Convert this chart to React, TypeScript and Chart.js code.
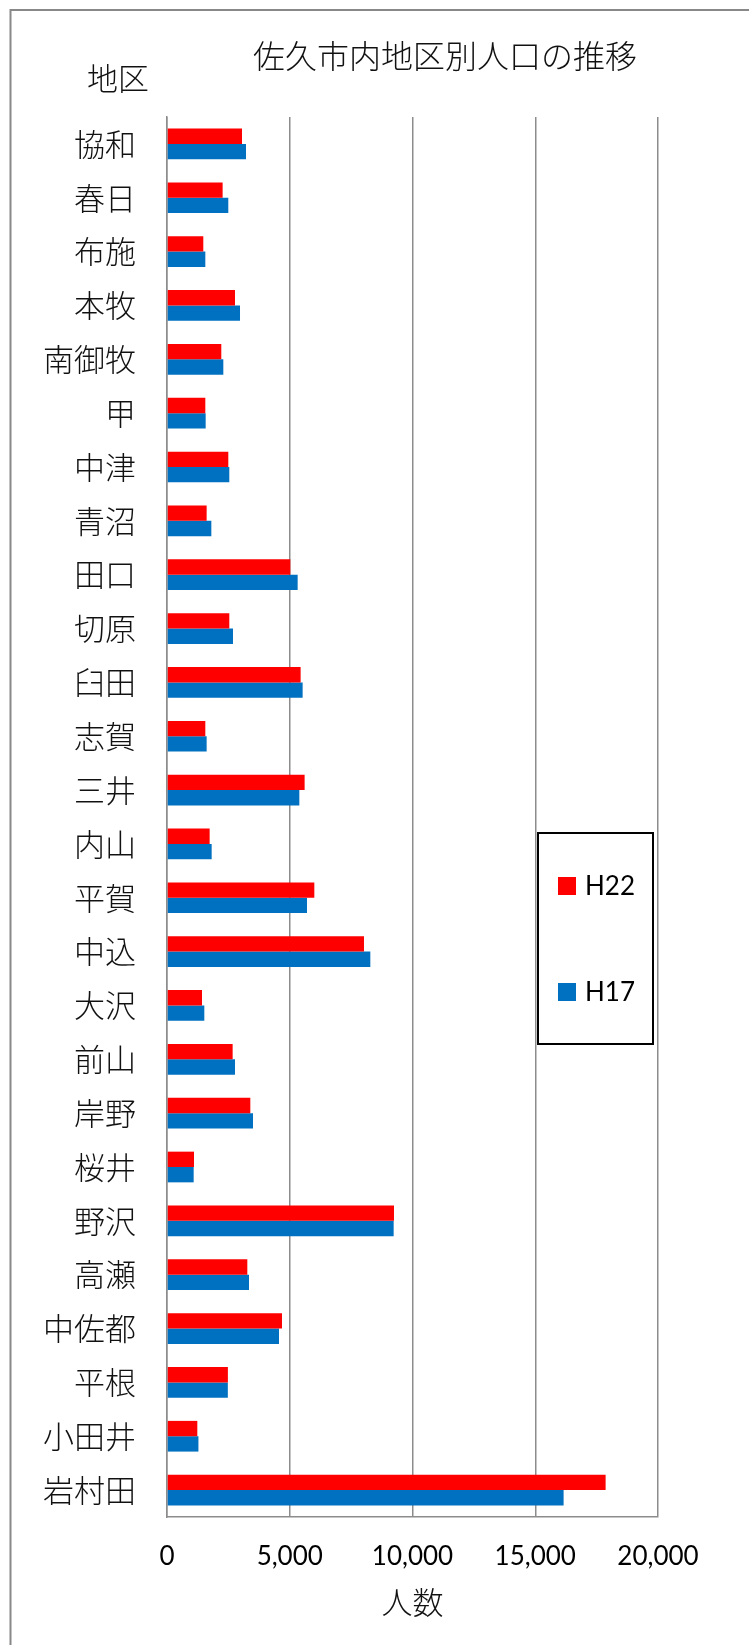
import React, { useEffect, useRef } from "react";
import { Chart, registerables } from "chart.js";

Chart.register(...registerables);

const chartTitle = "佐久市内地区別人口の推移";
const categoryAxisTitle = "地区";
const valueAxisTitle = "人数";

const districts = [
  "協和", "春日", "布施", "本牧", "南御牧", "甲", "中津", "青沼", "田口", "切原",
  "臼田", "志賀", "三井", "内山", "平賀", "中込", "大沢", "前山", "岸野", "桜井",
  "野沢", "高瀬", "中佐都", "平根", "小田井", "岩村田",
];

const h22 = [
  3055, 2266, 1479, 2770, 2212, 1561, 2497, 1615, 5023, 2538,
  5443, 1561, 5606, 1737, 6001, 8024, 1426, 2674, 3394, 1100,
  9246, 3272, 4684, 2480, 1235, 17866,
];

const h17 = [
  3218, 2497, 1561, 2974, 2294, 1575, 2538, 1806, 5322, 2688,
  5525, 1615, 5390, 1819, 5703, 8282, 1520, 2770, 3503, 1086,
  9232, 3340, 4562, 2478, 1280, 16155,
];

const seriesLabels = ["H22", "H17"];
const seriesColors = ["#ff0000", "#0070c0"];
const xTicks = [0, 5000, 10000, 15000, 20000];

const CJK = "'Noto Sans CJK JP', 'Noto Sans CJK SC', sans-serif";
const LAT = "Lato, 'Open Sans', sans-serif";

const W = 749;
const H = 1645;

const decorPlugin = {
  id: "decor",
  beforeDraw(chart: any) {
    const ctx = chart.ctx;
    ctx.save();
    ctx.fillStyle = "#ffffff";
    ctx.fillRect(0, 0, chart.width, chart.height);
    ctx.strokeStyle = "#888888";
    ctx.lineWidth = 2;
    ctx.beginPath();
    ctx.moveTo(10.5, H);
    ctx.lineTo(10.5, 10);
    ctx.lineTo(W, 10);
    ctx.stroke();
    ctx.restore();
  },
  afterDraw(chart: any) {
    const ctx = chart.ctx;
    ctx.save();
    ctx.fillStyle = "#111111";
    ctx.textBaseline = "middle";
    ctx.textAlign = "center";
    ctx.font = `300 32px ${CJK}`;
    ctx.fillText(chartTitle, 445, 56);
    ctx.font = `300 31px ${CJK}`;
    ctx.fillText(categoryAxisTitle, 118, 78);

    // legend box
    const bx = 538, by = 833, bw = 115, bh = 211;
    ctx.fillStyle = "#ffffff";
    ctx.fillRect(bx, by, bw, bh);
    ctx.strokeStyle = "#000000";
    ctx.lineWidth = 2;
    ctx.strokeRect(bx, by, bw, bh);
    const rowsY = [886, 992];
    chart.data.datasets.forEach((ds: any, i: number) => {
      const cy = rowsY[i];
      ctx.fillStyle = ds.backgroundColor;
      ctx.fillRect(bx + 20, cy - 9, 18, 18);
      ctx.fillStyle = "#000000";
      ctx.textAlign = "left";
      ctx.font = `26px ${LAT}`;
      ctx.fillText(ds.label, bx + 47, cy + 1);
    });
    ctx.restore();
  },
};

export default function App() {
  const ref = useRef<HTMLCanvasElement | null>(null);

  useEffect(() => {
    if (!ref.current) return;
    const chart = new Chart(ref.current, {
      type: "bar",
      data: {
        labels: districts,
        datasets: [
          { label: seriesLabels[0], data: h22, backgroundColor: seriesColors[0] },
          { label: seriesLabels[1], data: h17, backgroundColor: seriesColors[1] },
        ],
      },
      plugins: [decorPlugin],
      options: {
        indexAxis: "y",
        animation: false,
        responsive: false,
        devicePixelRatio: 1,
        categoryPercentage: 0.57,
        barPercentage: 1.0,
        layout: { padding: { left: 0, top: 117, right: 91, bottom: 0 } },
        plugins: {
          legend: { display: false },
          tooltip: { enabled: false },
          title: { display: false },
        },
        scales: {
          x: {
            type: "linear",
            min: 0,
            max: 20000,
            afterBuildTicks: (scale: any) => {
              scale.ticks = xTicks.map((v) => ({ value: v }));
            },
            afterFit: (scale: any) => {
              scale.height = H - 1517;
            },
            grid: { color: "#8c8c8c", lineWidth: 1.5, drawTicks: false },
            border: { display: true, color: "#8c8c8c", width: 1.5 },
            ticks: {
              padding: 24,
              color: "#000000",
              font: { family: LAT, size: 26 },
              callback: (v: any) => Number(v).toLocaleString("en-US"),
              maxRotation: 0,
            },
            title: {
              display: true,
              text: valueAxisTitle,
              color: "#111111",
              font: { family: CJK, size: 31, weight: "300" },
              padding: { top: 0, bottom: 24 },
            },
          },
          y: {
            type: "category",
            afterFit: (scale: any) => {
              scale.width = 167;
            },
            grid: { display: false, drawTicks: false },
            border: { display: true, color: "#8c8c8c", width: 1.5 },
            ticks: {
              padding: 31,
              color: "#111111",
              font: { family: CJK, size: 31, weight: "300" },
              autoSkip: false,
            },
          },
        },
      } as any,
    });
    return () => chart.destroy();
  }, []);

  return (
    <div style={{ position: "fixed", left: 0, top: 0, width: W, height: H, background: "#fff" }}>
      <canvas ref={ref} width={W} height={H} style={{ display: "block", width: W, height: H }} />
    </div>
  );
}
